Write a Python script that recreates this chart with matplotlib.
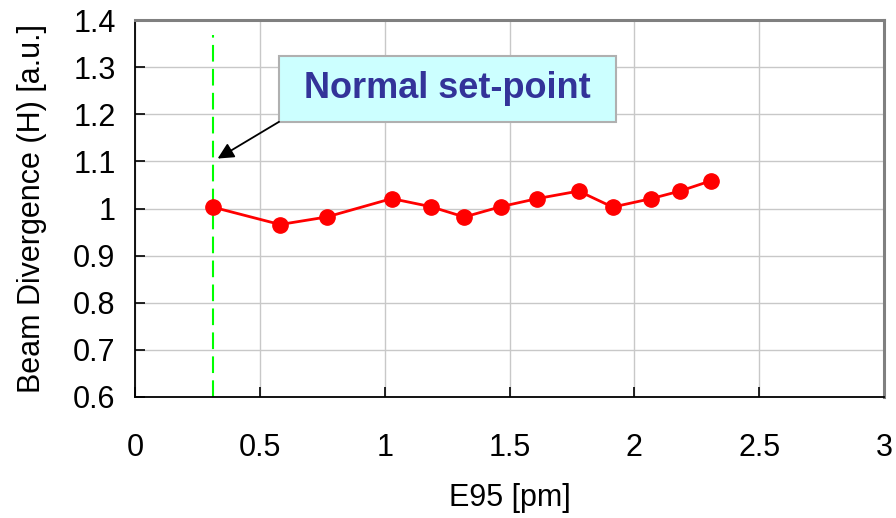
import matplotlib.pyplot as plt
from matplotlib.patches import Rectangle

plt.rcParams['font.family'] = ['Liberation Sans', 'DejaVu Sans']

# data
e95 = [0.311, 0.581, 0.768, 1.028, 1.184, 1.319, 1.466, 1.611, 1.777, 1.913, 2.068, 2.183, 2.308]
divergence = [1.003, 0.966, 0.982, 1.021, 1.004, 0.982, 1.004, 1.021, 1.037, 1.003, 1.021, 1.037, 1.059]
set_point = 0.311
set_point_top = 1.368
x_ticks = [0, 0.5, 1, 1.5, 2, 2.5, 3]
x_labels = ['0', '0.5', '1', '1.5', '2', '2.5', '3']
y_ticks = [0.6, 0.7, 0.8, 0.9, 1.0, 1.1, 1.2, 1.3, 1.4]
y_labels = ['0.6', '0.7', '0.8', '0.9', '1', '1.1', '1.2', '1.3', '1.4']

fig = plt.figure(figsize=(8.96, 5.18), dpi=100)
ax = fig.add_axes([135/896, 1-397/518, 749/896, 377/518])

ax.set_xlim(0, 3)
ax.set_ylim(0.6, 1.4)
ax.set_xticks(x_ticks)
ax.set_xticklabels(x_labels)
ax.set_yticks(y_ticks)
ax.set_yticklabels(y_labels)
ax.grid(True, color='#c8c8c8', linewidth=1.0)
ax.set_axisbelow(True)
ax.tick_params(direction='in', length=7, width=1.2, labelsize=22, colors='black')
ax.tick_params(axis='y', pad=14)
ax.tick_params(axis='x', pad=26)

for s in ['left', 'bottom']:
    ax.spines[s].set_color('black')
    ax.spines[s].set_linewidth(1.3)
for s in ['top', 'right']:
    ax.spines[s].set_color('#808080')
    ax.spines[s].set_linewidth(2.2)

# vertical set-point marker
ax.plot([set_point, set_point], [0.6, set_point_top], color='#00ff00', linewidth=1.5,
        dashes=(8, 3.5), zorder=2)

ax.plot(e95, divergence, color='red', linewidth=2, marker='o', markersize=11,
        markerfacecolor='red', markeredgecolor='red', zorder=3, clip_on=False)

ax.set_xlabel('E95 [pm]', fontsize=22, labelpad=14)
ax.set_ylabel('Beam Divergence (H) [a.u.]', fontsize=22, labelpad=19)

# callout box with arrow
box_x0, box_y0, box_w, box_h = 0.577, 1.184, 1.35, 0.14
ax.add_patch(Rectangle((box_x0, box_y0), box_w, box_h, facecolor='#ccffff',
                       edgecolor='#b0b0b0', linewidth=1.5, zorder=5))
ax.text(box_x0 + box_w / 2, box_y0 + box_h / 2, 'Normal set-point', fontsize=26,
        fontweight='bold', color='#333399', ha='center', va='center', zorder=6)
ax.annotate('', xy=(0.331, 1.106), xytext=(box_x0, box_y0),
            arrowprops=dict(arrowstyle='-|>', color='black', linewidth=1.3, mutation_scale=24,
                            shrinkA=0, shrinkB=0),
            zorder=5)

fig.savefig('out.png', dpi=100)
